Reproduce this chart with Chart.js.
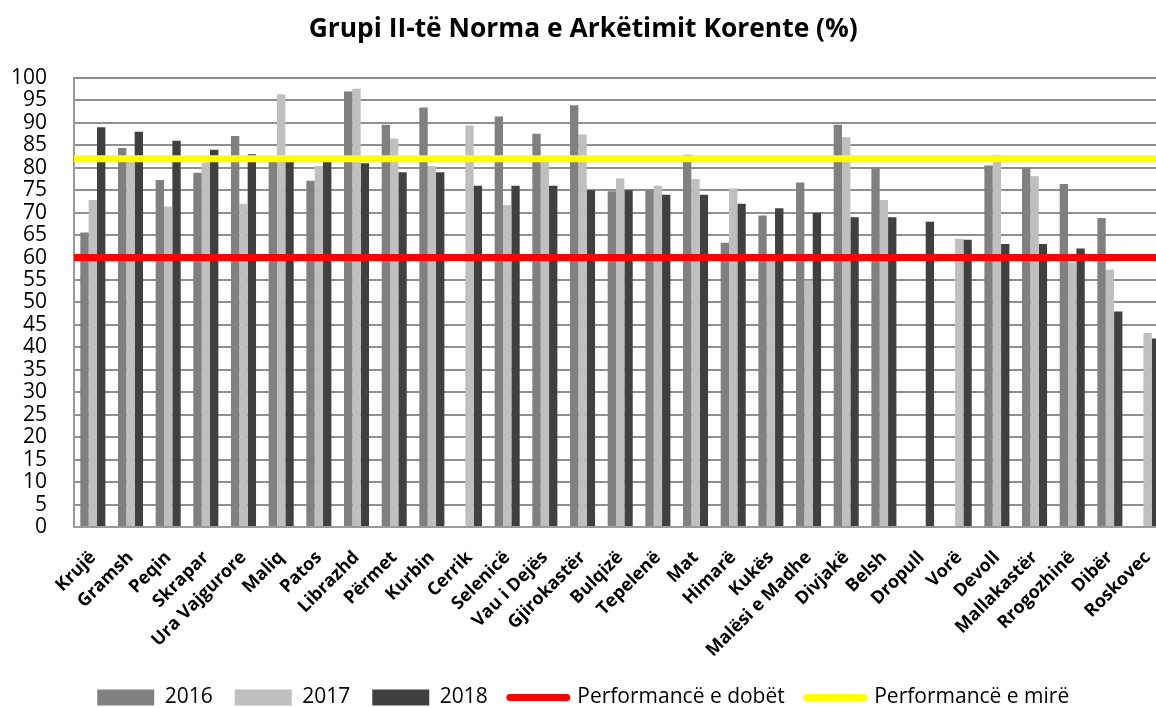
<!DOCTYPE html>
<html>
<head>
<meta charset="utf-8">
<title>Grupi II-të Norma e Arkëtimit Korente</title>
<script src="https://cdn.jsdelivr.net/npm/chart.js@4.4.0/dist/chart.umd.min.js"></script>
<style>
  html, body { margin: 0; padding: 0; background: #fff; overflow: hidden; }
  canvas { display: block; }
</style>
</head>
<body>
<canvas id="chart" width="1200" height="718" style="width:1200px;height:718px"></canvas>
<script>
// bashkitë e grupit II
const categories = ['Krujë', 'Gramsh', 'Peqin', 'Skrapar', 'Ura Vajgurore', 'Maliq', 'Patos', 'Librazhd',
  'Përmet', 'Kurbin', 'Cerrik', 'Selenicë', 'Vau i Dejës', 'Gjirokastër', 'Bulqizë', 'Tepelenë', 'Mat',
  'Himarë', 'Kukës', 'Malësi e Madhe', 'Divjakë', 'Belsh', 'Dropull', 'Vorë', 'Devoll', 'Mallakastër',
  'Rrogozhinë', 'Dibër', 'Roskovec'];

// norma e arkëtimit (%)
const v2016 = [65.6, 84.4, 77.3, 78.9, 87.1, 82, 77.1, 97.0, 89.6, 93.4, null, 91.4, 87.6, 93.9, 74.8,
  75.0, 82.9, 63.3, 69.4, 76.7, 89.6, 80.0, null, null, 80.5, 80.0, 76.4, 68.8, null];
const v2017 = [72.8, 82, 71.4, 81.2, 72.0, 96.4, 80.4, 97.6, 86.5, 80.4, 89.4, 71.7, 81.5, 87.4, 77.6,
  76.0, 77.5, 75.4, 59.2, 54.9, 86.8, 72.8, null, 64.2, 82.9, 78.1, 58.9, 57.3, 43.2];
const v2018 = [89, 88, 86, 84, 83, 82, 82, 81, 79, 79, 76, 76, 76, 75, 75, 74, 74, 72, 71, 70, 69, 69,
  68, 64, 63, 63, 62, 48, 42];

// pragjet e performancës
const levelNames = ['Performancë e dobët', 'Performancë e mirë'];
const levelValues = [60, 82];
const levelColors = ['#ff0000', '#ffff00'];

// boshti vertikal
const yMin = 0, yMax = 100, yStep = 5;

Chart.defaults.font.family = '"Open Sans", Lato, sans-serif';
Chart.defaults.color = '#000';

const barSet = (label, data, color) => ({
  label: label,
  data: data,
  backgroundColor: color,
  borderWidth: 0,
  categoryPercentage: 0.665,
  barPercentage: 1.0
});

// vijat horizontale të pragjeve, nga boshti y
const levelLines = {
  id: 'levelLines',
  afterDatasetsDraw(chart) {
    const { ctx, chartArea, scales } = chart;
    ctx.save();
    ctx.beginPath();
    ctx.rect(chartArea.left, chartArea.top, chartArea.width, chartArea.height);
    ctx.clip();
    levelValues.forEach((v, i) => {
      const py = scales.y.getPixelForValue(v);
      ctx.strokeStyle = levelColors[i];
      ctx.lineWidth = 7;
      ctx.beginPath();
      ctx.moveTo(chartArea.left, py);
      ctx.lineTo(chartArea.right, py);
      ctx.stroke();
    });
    ctx.restore();
  }
};

new Chart(document.getElementById('chart'), {
  type: 'bar',
  data: {
    labels: categories,
    datasets: [
      barSet('2016', v2016, '#808080'),
      barSet('2017', v2017, '#bfbfbf'),
      barSet('2018', v2018, '#404040')
    ]
  },
  plugins: [levelLines],
  options: {
    responsive: false,
    animation: false,
    events: [],
    layout: { padding: { left: 0, right: 33.6, top: 0, bottom: 0 } },
    plugins: {
      title: {
        display: true,
        text: 'Grupi II-të Norma e Arkëtimit Korente (%)',
        font: { size: 26.4, weight: 'bold' },
        color: '#000',
        padding: { top: 13.2, bottom: 33.1 }
      },
      legend: {
        position: 'bottom',
        labels: {
          usePointStyle: true,
          pointStyleWidth: 57,
          boxHeight: 16,
          padding: 22,
          font: { size: 21 },
          color: '#000',
          generateLabels: (chart) => {
            const items = Chart.defaults.plugins.legend.labels.generateLabels(chart);
            items.forEach((it) => { it.pointStyle = 'rect'; it.lineWidth = 0; });
            levelNames.forEach((name, i) => items.push({
              text: name,
              fillStyle: levelColors[i],
              strokeStyle: levelColors[i],
              lineWidth: 7,
              lineCap: 'round',
              pointStyle: 'line',
              hidden: false
            }));
            return items;
          }
        }
      },
      tooltip: { enabled: false }
    },
    scales: {
      x: {
        grid: { display: false },
        border: { display: true, color: '#9a9a9a', width: 2 },
        ticks: {
          autoSkip: false,
          maxRotation: 45,
          minRotation: 45,
          padding: 12,
          font: { size: 18, weight: 'bold' },
          color: '#000'
        },
        afterFit: (scale) => { scale.height = 138; }
      },
      y: {
        min: yMin,
        max: yMax,
        ticks: {
          stepSize: yStep,
          autoSkip: false,
          padding: 27,
          font: { size: 21 },
          color: '#000'
        },
        grid: { color: '#8f8f8f', lineWidth: 2, drawTicks: false },
        border: { display: true, color: '#9a9a9a', width: 2 },
        afterFit: (scale) => { scale.width = 74; }
      }
    }
  }
});
</script>
</body>
</html>
